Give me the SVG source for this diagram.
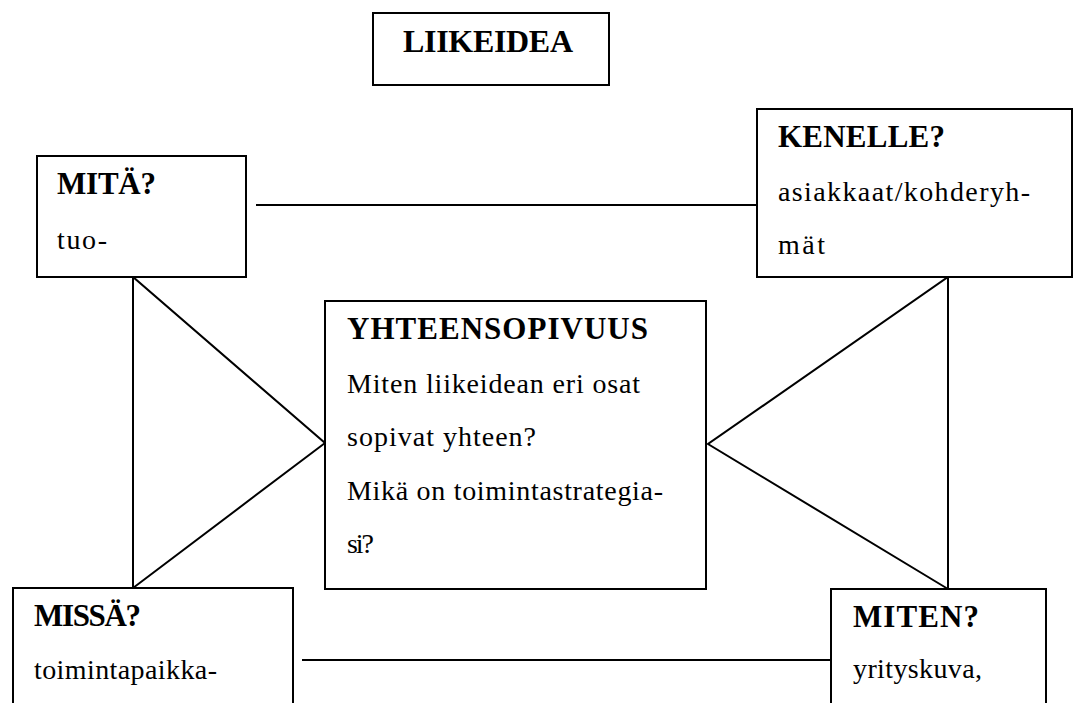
<svg xmlns="http://www.w3.org/2000/svg" width="1074" height="703" viewBox="0 0 1074 703">
<style>
.box{fill:#fff;stroke:#000;stroke-width:2}
.ln{stroke:#000;stroke-width:2;fill:none}
text{fill:#000;font-size:28px}
.h{font-weight:bold;font-size:31px}
</style>
<rect width="1074" height="703" fill="#fff"/>
<g id="connectors">
<line class="ln" x1="256" y1="205" x2="757" y2="205"/>
<line class="ln" x1="302" y1="660" x2="831" y2="660"/>
<polyline class="ln" points="133,588 133,277 325,443 133,588"/>
<polyline class="ln" points="948,589 948,277 708,444 948,589"/>
</g>
<g id="liikeidea">
<rect class="box" x="373" y="13" width="236" height="72"/>
<text class="h" x="403" y="52" font-family="Liberation Serif" style="font-size:32px" textLength="170">LIIKEIDEA</text>
</g>
<g id="mita">
<rect class="box" x="37" y="156" width="209" height="121"/>
<text class="h" x="57" y="194" font-family="Liberation Serif" textLength="99">MITÄ?</text>
<text x="57" y="249" font-family="Liberation Serif Regular" textLength="50">tuo-</text>
</g>
<g id="kenelle">
<rect class="box" x="757" y="109" width="315" height="168"/>
<text class="h" x="778" y="147" font-family="Liberation Serif" textLength="167">KENELLE?</text>
<text x="778" y="201" font-family="Liberation Serif Regular" textLength="252">asiakkaat/kohderyh-</text>
<text x="778" y="254" font-family="Liberation Serif Regular" textLength="47">mät</text>
</g>
<g id="yhteensopivuus">
<rect class="box" x="325" y="301" width="381" height="288"/>
<text class="h" x="347" y="339" font-family="Liberation Serif" textLength="301">YHTEENSOPIVUUS</text>
<text x="347" y="393" font-family="Liberation Serif Regular" textLength="293">Miten liikeidean eri osat</text>
<text x="347" y="446" font-family="Liberation Serif Regular" textLength="189">sopivat yhteen?</text>
<text x="347" y="500" font-family="Liberation Serif Regular" textLength="316">Mikä on toimintastrategia-</text>
<text x="347" y="553" font-family="Liberation Serif Regular" textLength="27">si?</text>
</g>
<g id="missa">
<rect class="box" x="13" y="588" width="280" height="125"/>
<text class="h" x="34" y="626" font-family="Liberation Serif" textLength="107">MISSÄ?</text>
<text x="34" y="679" font-family="Liberation Serif Regular" textLength="183">toimintapaikka-</text>
</g>
<g id="miten">
<rect class="box" x="831" y="589" width="215" height="125"/>
<text class="h" x="853" y="627" font-family="Liberation Serif" textLength="126">MITEN?</text>
<text x="853" y="678" font-family="Liberation Serif Regular" textLength="129">yrityskuva,</text>
</g>
</svg>
